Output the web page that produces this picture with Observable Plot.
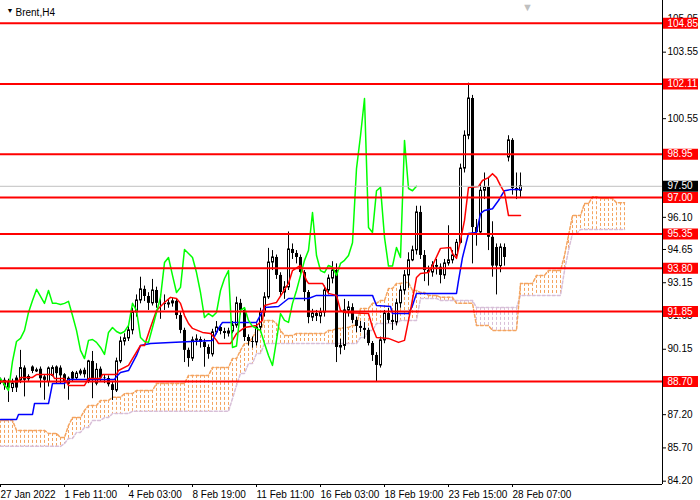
<!DOCTYPE html>
<html><head><meta charset="utf-8">
<script src="https://cdn.jsdelivr.net/npm/d3@7"></script>
<script src="https://cdn.jsdelivr.net/npm/@observablehq/plot@0.6"></script>
<style>
html,body{margin:0;padding:0;background:#fff;}
#chart{width:700px;height:500px;overflow:hidden;}
</style></head><body><div id="chart"></div>
<script>
// ---- Brent H4 candles (bar index 0..130) ----
const opens = [
 88.65,88.75,88.70,88.40,88.85,88.75,89.30,88.80,89.35,89.15,
 89.25,88.90,88.67,88.95,89.35,89.30,89.00,88.60,89.10,88.85,
 89.05,89.20,88.70,89.60,88.60,89.25,
 88.85,88.83,88.55,88.29,89.60,90.50,90.64,91.00,91.81,92.35,
 92.85,92.53,92.22,92.80,92.22,92.22,92.17,92.22,92.31,91.67,
 91.00,90.10,89.73,90.55,90.59,90.46,90.23,89.92,90.91,91.13,
 90.95,90.86,90.95,91.22,92.22,91.90,90.68,90.50,90.46,91.13,
 91.81,92.49,94.06,94.29,93.48,92.71,92.94,94.65,94.47,94.29,
 93.61,92.71,91.58,91.76,91.63,91.81,92.80,93.34,93.70,90.23,
 90.30,91.90,92.03,91.45,91.18,91.09,91.00,90.41,89.87,89.42,
 90.55,91.76,91.45,91.36,92.22,92.80,93.48,94.16,94.61,96.32,
 94.38,93.70,93.61,93.93,93.85,93.48,94.02,94.16,94.38,94.95,
 98.30,99.78,101.46,95.64,95.42,97.30,97.45,95.20,94.74,93.90,
 94.74,98.80,99.57,97.40,97.30];
const highs = [
 88.85,88.85,88.80,88.80,88.95,90.10,89.40,89.00,89.40,89.30,
 89.35,89.00,89.35,89.40,89.40,89.40,89.05,88.90,89.15,89.15,
 89.25,89.30,89.65,90.05,89.50,89.35,
 89.00,88.95,88.70,89.75,90.70,90.85,91.20,92.00,92.60,93.40,
 93.00,92.70,93.30,92.95,92.60,92.60,92.40,92.45,92.40,91.80,
 91.10,90.20,90.70,90.80,90.70,90.60,90.35,91.05,91.40,91.25,
 91.10,91.10,91.40,92.50,92.40,92.00,90.80,90.70,91.30,92.00,
 92.70,94.70,94.60,94.40,93.60,93.20,95.44,94.90,94.60,94.40,
 93.70,92.80,91.95,91.90,92.00,93.00,93.50,94.10,94.00,90.60,
 92.40,92.30,92.20,91.60,91.40,91.35,91.10,90.50,90.00,90.70,
 91.90,92.00,91.70,92.40,93.00,93.70,94.50,94.80,96.60,96.60,
 94.60,93.90,94.10,94.20,94.00,94.20,95.72,94.60,95.10,98.50,
 100.00,102.15,101.60,96.00,97.60,98.10,97.90,95.90,94.90,94.90,
 94.90,99.78,99.65,98.10,98.10];
const lows = [
 88.55,88.30,87.75,88.20,88.20,88.60,88.00,88.70,89.05,89.10,
 88.40,87.85,88.45,88.90,88.60,88.60,88.35,87.85,88.65,88.75,
 88.95,88.85,88.60,87.92,88.50,88.70,
 88.60,88.45,87.84,88.20,89.50,90.30,90.50,90.80,91.60,92.20,
 92.30,91.90,92.10,92.00,91.50,91.90,92.00,92.05,91.50,90.85,
 89.55,89.34,89.60,90.30,90.20,89.34,89.70,89.80,90.80,90.80,
 90.60,90.70,90.85,91.10,91.70,90.50,90.30,90.20,90.30,91.00,
 91.60,92.40,93.70,93.30,92.50,92.40,92.80,94.20,94.00,93.40,
 92.30,91.30,91.40,91.40,91.30,91.60,92.60,93.10,89.55,89.90,
 90.10,91.60,91.30,90.90,90.90,90.60,90.30,89.60,88.65,89.30,
 90.40,91.30,91.00,91.20,92.00,92.60,92.90,94.10,94.40,94.20,
 93.20,93.00,93.40,93.50,93.10,93.30,93.90,94.00,94.20,94.90,
 98.10,99.60,94.00,94.80,95.30,96.90,94.60,93.40,92.60,93.60,
 93.90,98.60,97.10,96.90,97.00];
const closes = [
 88.75,88.50,88.40,88.60,88.40,89.30,88.75,88.90,89.15,89.20,
 88.82,88.75,89.28,89.30,89.05,88.95,88.67,88.82,88.80,89.05,
 89.15,89.00,89.60,88.80,89.22,88.85,
 88.83,88.55,88.29,89.60,90.50,90.64,91.00,91.81,92.35,92.85,
 92.53,92.22,92.80,92.22,92.22,92.17,92.22,92.31,91.67,91.00,
 90.10,89.73,90.55,90.59,90.46,90.23,89.92,90.91,91.13,90.95,
 90.86,90.95,91.22,92.22,91.90,90.68,90.50,90.46,91.13,91.81,
 92.49,94.06,94.29,93.48,92.71,92.94,94.65,94.47,94.29,93.61,
 92.71,91.58,91.76,91.63,91.81,92.80,93.34,93.70,90.23,90.30,
 91.90,92.03,91.45,91.18,91.09,91.00,90.41,89.87,89.42,90.55,
 91.76,91.45,91.36,92.22,92.80,93.48,94.16,94.61,96.32,94.38,
 93.70,93.61,93.93,93.85,93.48,94.02,94.16,94.38,94.95,98.30,
 99.78,101.46,95.64,95.42,97.30,97.45,95.20,93.90,93.90,94.74,
 94.29,99.57,97.40,97.30,97.50];

// ---- Ichimoku lines: [bar, price] ----
const tenkan = [[0,88.70],[4.5,88.70],[5,88.88],[8,88.88],[9,89.01],[13,89.01],[13.5,88.83],[16,88.83],
 [17,88.52],[21,88.52],[22,88.83],[25,88.83],[25.5,89.01],[29,89.01],[29.5,89.19],[32,89.42],[33,89.73],
 [35,90.32],[36,90.32],[37.5,91.13],[39,91.90],[41,92.26],[42.5,92.49],[44,92.44],[45,92.22],[46,91.67],
 [47,91.31],[48,91.09],[50.5,90.91],[52.5,90.86],[53,90.77],[54,90.55],[54.5,90.41],[57.5,90.41],[58,90.55],
 [59,90.86],[61,91.13],[64,91.22],[65.5,91.45],[66,92.12],[68,92.22],[69,92.26],[72,93.12],[73,93.70],
 [75,93.93],[76.5,93.25],[77,93.12],[80.5,93.12],[82,92.67],[84,92.58],[85,91.90],[86,91.81],[92,91.76],
 [93,91.13],[94,90.68],[97,90.64],[99.5,90.46],[101,90.55],[102.5,91.90],[104,93.39],[105,93.57],[107,93.61],
 [108,93.93],[110,94.70],[112.5,94.74],[113,94.47],[114,94.25],[115,95.06],[116,95.96],[117,97.45],
 [119.5,97.49],[120.5,97.76],[122,97.89],[123,98.07],[124,97.89],[125,97.53],[126,97.22],[127,96.18],[130,96.18]];
const kijun = [[0,86.98],[4,86.98],[4.5,87.21],[8,87.21],[8.5,87.70],[12,87.70],[12.5,88.15],[13,88.61],
 [16,88.61],[17,88.79],[28.5,88.79],[29,88.92],[30,89.10],[32,89.19],[34,89.87],[35,90.32],[37.5,90.41],
 [42.5,90.46],[53,90.55],[54.5,91.09],[55.5,91.36],[64,91.36],[66,92.03],[69.5,92.08],[72,92.44],[77,92.44],
 [79,92.58],[93,92.58],[94,92.12],[97.5,92.08],[98,91.76],[102,91.76],[103,92.12],[104,92.67],[114,92.67],
 [114.5,93.25],[115.5,94.29],[117,95.37],[119,95.42],[120,96.27],[121,96.41],[123,96.49],[124.5,96.86],
 [126,97.30],[127.5,97.35],[130,97.35]];
// Senkou spans (shifted 26 bars ahead): [first bar, price]
const spanA = [[0,86.94],[4,86.49],[12,86.35],[15,86.17],[17,86.71],[18,87.07],[21,87.39],[22,87.61],
 [25,87.84],[28,87.98],[31,88.15],[34,88.29],[39,88.61],[47,88.97],[53,89.33],[58,89.73],[60,90.10],
 [61,90.41],[63,90.68],[64,91.00],[66,91.45],[69,91.31],[70,91.00],[71,90.77],[74,90.86],[82,91.00],
 [84,91.09],[86,91.13],[88,91.22],[90,91.99],[93,92.22],[95,92.35],[97,92.89],[99,93.12],[101,93.16],
 [103,92.80],[105,92.71],[107,92.58],[110,92.49],[114,92.22],[119,91.22],[123,91.00],[130,93.12],
 [134,93.48],[137,93.70],[141,94.38],[142,95.28],[143,96.18],[146,96.72],[148,97.03],[150,96.95],[154,96.76]];
const spanB = [[0,85.77],[16,85.90],[17,86.13],[19,86.40],[21,86.62],[23,86.94],[26,87.07],[28,87.25],
 [33,87.35],[58,87.93],[59,88.52],[60,89.06],[62,89.51],[64,89.96],[66,90.41],[90,90.68],[92,91.00],
 [94,91.31],[100,91.45],[105,92.44],[110,92.35],[119,92.03],[130,92.58],[141,93.70],[142,94.61],
 [143,95.37],[145,95.55]];
const cloudEnd = 156;

// ---- levels and axis text ----
const levels = [104.85, 102.11, 98.95, 97.00, 95.35, 93.80, 91.85, 88.70];
const lastPrice = 97.50;
const yTicks = [84.20, 85.70, 87.20, 88.70, 90.15, 91.65, 93.15, 94.65, 96.10, 97.60, 99.05, 100.55, 102.05, 103.55, 105.05];
const yTicksHidden = [88.70, 97.60, 99.05, 102.05];
const xTickBars = [0, 16, 32, 48, 64, 80, 96, 112, 128];
const xTickLabels = ["27 Jan 2022", "1 Feb 11:00", "4 Feb 03:00", "8 Feb 19:00", "11 Feb 11:00", "16 Feb 03:00", "18 Feb 19:00", "23 Feb 15:00", "28 Feb 07:00"];
const title = "Brent,H4";
const chikouShift = 26;

// ---- build tables ----
const candles = closes.map((c, i) => ({i, o: opens[i], h: highs[i], l: lows[i], c}));
const chikou = closes.slice(chikouShift).map((c, k) => ({x: k, c}));
const stepAt = (bps, j) => { let v; for (const [b, p] of bps) if (b <= j) v = p; return v; };
const cloud = d3.range(0, cloudEnd + 1).map(j => ({j, a: stepAt(spanA, j), b: stepAt(spanB, j)}));

const xMax = 165.5, yMin = 84.05, yMax = 105.88;
const boxX1 = xMax + 0.25, boxX2 = xMax + 9;
const labelMap = new Map(xTickBars.map((v, k) => [v, xTickLabels[k]]));
const font = "Liberation Sans, Arial, sans-serif";

const plot = Plot.plot({
  width: 700, height: 500,
  marginLeft: 0, marginRight: 38, marginTop: 0, marginBottom: 16,
  x: {type: "linear", domain: [0, xMax], axis: null},
  y: {type: "linear", domain: [yMin, yMax], axis: null},
  style: {fontFamily: font, fontSize: "10px", background: "white", color: "black", overflow: "visible"},
  marks: [
    // cloud hatch
    Plot.ruleX(cloud, {x: "j", y1: "a", y2: "b", stroke: d => d.a >= d.b ? "#F4A460" : "#D8BFD8", strokeDasharray: "3,2"}),
    Plot.line(cloud, {x: "j", y: "b", stroke: "#D8BFD8", strokeDasharray: "3,2"}),
    Plot.line(cloud, {x: "j", y: "a", stroke: "#F4A460", strokeDasharray: "3,2"}),
    // candles
    Plot.ruleX(candles, {x: "i", y1: "l", y2: "h", stroke: "black"}),
    Plot.rect(candles.filter(d => d.c < d.o), {x1: d => d.i - 0.25, x2: d => d.i + 0.5, y1: "c", y2: "o", fill: "black"}),
    Plot.rect(candles.filter(d => d.c >= d.o), {x1: d => d.i - 0.125, x2: d => d.i + 0.375, y1: "o", y2: "c", fill: "white", stroke: "black"}),
    // ichimoku lines
    Plot.line(kijun, {x: d => d[0], y: d => d[1], stroke: "#0000FF"}),
    Plot.line(tenkan, {x: d => d[0], y: d => d[1], stroke: "#FF0000"}),
    Plot.line(chikou, {x: "x", y: "c", stroke: "#00FF00"}),
    // bid line
    Plot.ruleY([lastPrice], {stroke: "#C0C0C0"}),
    // horizontal levels
    Plot.ruleY(levels, {stroke: "#FF0000", strokeWidth: 2}),
    // axis frame lines
    Plot.ruleX([xMax], {stroke: "black"}),
    Plot.ruleY([yMin], {x1: 0, x2: xMax, stroke: "black"}),
    // axes
    Plot.axisY(yTicks, {anchor: "right", tickSize: 3, tickPadding: 2, tickFormat: d => yTicksHidden.includes(d) ? "" : d.toFixed(2), label: null, fontSize: 10}),
    Plot.axisX(xTickBars, {anchor: "bottom", tickSize: 3, tickPadding: 3, tickFormat: d => labelMap.get(d), textAnchor: "start", dx: 0, label: null, fontSize: 10}),
    // level labels
    Plot.ruleY(levels, {x1: boxX1, x2: boxX2, stroke: "#FF0000", strokeWidth: 11}),
    Plot.text(levels, {x: xMax, y: d => d, dx: 5, text: d => d.toFixed(2), fill: "white", textAnchor: "start", fontSize: 10}),
    Plot.ruleY([lastPrice], {x1: boxX1, x2: boxX2, stroke: "black", strokeWidth: 11}),
    Plot.text([lastPrice], {x: xMax, y: d => d, dx: 5, text: d => d.toFixed(2), fill: "white", textAnchor: "start", fontSize: 10}),
    // title
    Plot.text(["\u25BC"], {frameAnchor: "top-left", dx: 6, dy: 8, fontSize: 7, fill: "black"}),
    Plot.text([title], {frameAnchor: "top-left", dx: 15, dy: 8, textAnchor: "start", fontSize: 10, fill: "black"}),
    Plot.text(["\u25BC"], {x: 131.75, frameAnchor: "top", dy: 3, fontSize: 11, fill: "#C0C0C0"})
  ]
});
document.getElementById("chart").appendChild(plot);
</script>
</body></html>
